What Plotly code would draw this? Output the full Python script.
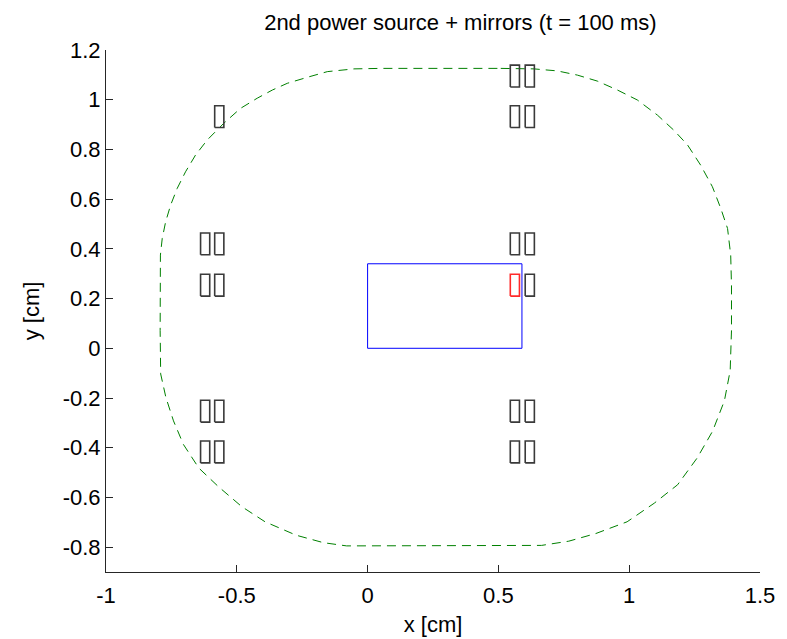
import plotly.graph_objects as go

# Boundary contour (dashed green), x/y in cm
contour_x = [0.509, 0.636, 0.725, 0.802, 0.878, 0.955, 1.031, 1.108, 1.171, 1.223, 1.273,
             1.318, 1.350, 1.376, 1.388, 1.391, 1.391,
             1.386, 1.364, 1.319, 1.260, 1.185, 1.096, 0.992, 0.873, 0.769, 0.665,
             -0.080, -0.169, -0.273, -0.392, -0.481, -0.571, -0.645, -0.704, -0.742, -0.771,
             -0.791, -0.793,
             -0.794, -0.792, -0.785, -0.772, -0.753, -0.728, -0.696, -0.658, -0.613, -0.550,
             -0.486, -0.422, -0.364, -0.307, -0.231, -0.154, -0.052, 0.050, 0.509]
contour_y = [1.126, 1.124, 1.116, 1.099, 1.075, 1.039, 0.999, 0.938, 0.877, 0.818, 0.737,
             0.650, 0.563, 0.482, 0.375, 0.254, 0.072,
             -0.090, -0.211, -0.333, -0.441, -0.549, -0.623, -0.698, -0.745, -0.776, -0.793,
             -0.795, -0.782, -0.752, -0.698, -0.637, -0.556, -0.482, -0.387, -0.292, -0.198,
             -0.103, 0.072,
             0.267, 0.375, 0.442, 0.509, 0.576, 0.643, 0.710, 0.777, 0.838, 0.905,
             0.965, 1.006, 1.039, 1.066, 1.090, 1.113, 1.124, 1.126, 1.126]

# Power source region (blue rectangle)
source_x = [0.0, 0.59, 0.59, 0.0, 0.0]
source_y = [0.0, 0.0, 0.34, 0.34, 0.0]

# Mirror markers: centre positions and colours
mirror_x = [-0.567,
            -0.621, -0.567, -0.621, -0.567, -0.621, -0.567, -0.621, -0.567,
            0.563, 0.620, 0.563, 0.620, 0.563, 0.620, 0.563, 0.620,
            0.563, 0.620, 0.563, 0.620]
mirror_y = [0.932,
            0.420, 0.420, 0.254, 0.254, -0.253, -0.253, -0.417, -0.417,
            1.095, 1.095, 0.932, 0.932, 0.420, 0.420, 0.254, 0.254,
            -0.253, -0.253, -0.417, -0.417]
mirror_color = ["#3a3a3a"] * 15 + ["#ff2a2a"] + ["#3a3a3a"] * 5

x_ticks = [-1, -0.5, 0, 0.5, 1, 1.5]
x_tick_text = ["-1", "-0.5", "0", "0.5", "1", "1.5"]
y_ticks = [-0.8, -0.6, -0.4, -0.2, 0, 0.2, 0.4, 0.6, 0.8, 1, 1.2]
y_tick_text = ["-0.8", "-0.6", "-0.4", "-0.2", "0", "0.2", "0.4", "0.6", "0.8", "1", "1.2"]

HALF_W, HALF_H = 0.0175, 0.044
FONT = "Liberation Sans, Arial, Helvetica, sans-serif"
FS = 22

fig = go.Figure()

fig.add_trace(go.Scatter(x=contour_x, y=contour_y, mode="lines",
                         line=dict(color="#008000", width=1, dash="9px,6px"),
                         hoverinfo="skip", showlegend=False))

fig.add_trace(go.Scatter(x=source_x, y=source_y, mode="lines",
                         line=dict(color="#0000ff", width=1),
                         hoverinfo="skip", showlegend=False))

# group mirror outlines by colour into broken polylines
for col in sorted(set(mirror_color)):
    bx, by = [], []
    for cx, cy, c in zip(mirror_x, mirror_y, mirror_color):
        if c != col:
            continue
        bx += [cx - HALF_W, cx + HALF_W, cx + HALF_W, cx - HALF_W, cx - HALF_W, None]
        by += [cy - HALF_H, cy - HALF_H, cy + HALF_H, cy + HALF_H, cy - HALF_H, None]
    fig.add_trace(go.Scatter(x=bx, y=by, mode="lines",
                             line=dict(color=col, width=1.6),
                             hoverinfo="skip", showlegend=False))

axis_common = dict(showgrid=False, zeroline=False, showline=True, linecolor="#262626",
                   linewidth=1, ticks="inside", ticklen=7, tickcolor="#262626",
                   tickfont=dict(family=FONT, size=FS, color="black"),
                   mirror=False, automargin=False)

fig.update_xaxes(range=[-1, 1.5], tickvals=x_ticks, ticktext=x_tick_text,
                 ticklabelstandoff=4,
                 title=dict(text="x [cm]", font=dict(family=FONT, size=FS, color="black"),
                            standoff=9),
                 **axis_common)
fig.update_yaxes(range=[-0.9, 1.2], tickvals=y_ticks, ticktext=y_tick_text,
                 title=dict(text="y [cm]", font=dict(family=FONT, size=FS, color="black"),
                            standoff=16),
                 **axis_common)

fig.update_layout(
    width=787, height=639,
    margin=dict(l=106, r=27, t=50, b=67),
    paper_bgcolor="white", plot_bgcolor="white",
    title=dict(text="2nd power source + mirrors (t = 100 ms)",
               font=dict(family=FONT, size=FS, color="black"),
               x=0.585, xanchor="center", y=0.965, yanchor="middle"),
)

fig.write_html("out.html")
